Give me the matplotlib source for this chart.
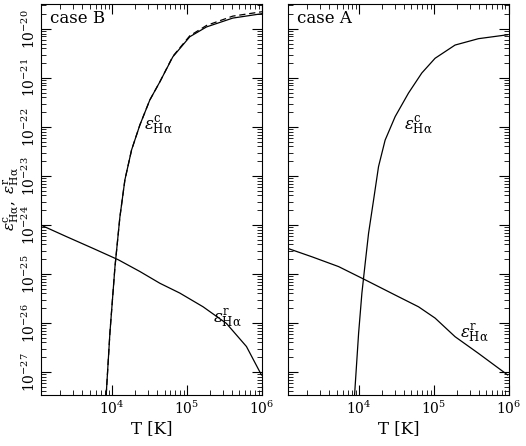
import numpy as np
import matplotlib
matplotlib.use("Agg")
import matplotlib.pyplot as plt
from matplotlib.ticker import LogLocator, NullFormatter

plt.rcParams['font.family'] = 'DejaVu Serif'
plt.rcParams['mathtext.fontset'] = 'dejavuserif'

# log10 T, log10 emissivity
B_coll_logT = [3.92, 3.97, 4.037, 4.103, 4.17, 4.259, 4.37, 4.503, 4.637, 4.81, 5.037, 5.26, 5.61, 6.0]
B_coll_logE = [-27.47, -26.20, -24.86, -23.84, -23.08, -22.47, -21.96, -21.45, -21.08, -20.57, -20.16, -19.96, -19.78, -19.69]
B_coll2_logE = [-27.47, -26.20, -24.86, -23.84, -23.08, -22.47, -21.96, -21.45, -21.08, -20.56, -20.14, -19.93, -19.74, -19.65]
B_rec_logT = [3.059, 3.392, 3.747, 4.081, 4.37, 4.637, 4.903, 5.214, 5.526, 5.793, 5.993]
B_rec_logE = [-24.01, -24.24, -24.48, -24.71, -24.95, -25.19, -25.39, -25.67, -26.01, -26.48, -27.06]

A_coll_logT = [3.939, 3.993, 4.037, 4.081, 4.126, 4.193, 4.259, 4.347, 4.481, 4.659, 4.837, 5.014, 5.281, 5.593, 5.983]
A_coll_logE = [-27.47, -26.21, -25.39, -24.78, -24.17, -23.49, -22.81, -22.27, -21.79, -21.31, -20.90, -20.60, -20.33, -20.20, -20.12]
A_rec_logT = [3.05, 3.37, 3.726, 4.081, 4.481, 4.793, 5.014, 5.281, 5.593, 5.983]
A_rec_logE = [-24.48, -24.65, -24.85, -25.12, -25.43, -25.67, -25.90, -26.28, -26.62, -27.06]

fig = plt.figure(figsize=(5.26, 4.46), dpi=100)
axB = fig.add_axes([0.078, 0.1143, 0.42, 0.877])
axA = fig.add_axes([0.5475, 0.1143, 0.42, 0.877])

def p(v):
    return 10.0 ** np.array(v)

axB.plot(p(B_coll_logT), p(B_coll_logE), color='black', lw=0.9)
axB.plot(p(B_coll_logT), p(B_coll2_logE), color='black', lw=0.9, ls=(0, (5, 3)))
axB.plot(p(B_rec_logT), p(B_rec_logE), color='black', lw=0.9)
axA.plot(p(A_coll_logT), p(A_coll_logE), color='black', lw=0.9)
axA.plot(p(A_rec_logT), p(A_rec_logE), color='black', lw=0.9)

for ax, name in [(axB, 'case B'), (axA, 'case A')]:
    ax.set_xscale('log')
    ax.set_yscale('log')
    ax.set_xlim(10 ** 3.05, 1e6)
    ax.set_ylim(10 ** -27.47, 10 ** -19.49)
    ax.tick_params(which='both', direction='in', top=True, right=True)
    ax.tick_params(which='major', length=7, labelsize=10)
    ax.tick_params(axis='y', pad=2)
    ax.tick_params(which='minor', length=3.5)
    ax.yaxis.set_major_locator(LogLocator(base=10, numticks=20))
    ax.yaxis.set_minor_locator(LogLocator(base=10, subs=np.arange(2, 10), numticks=20))
    ax.yaxis.set_minor_formatter(NullFormatter())
    ax.set_xlabel('T [K]', fontsize=12, labelpad=2)
    ax.text(0.04, 0.985, name, transform=ax.transAxes, ha='left', va='top', fontsize=12)

for lbl in axB.get_yticklabels():
    lbl.set_rotation(90)
    lbl.set_va('center')
axA.set_yticklabels([])
axB.set_ylabel(r'$\epsilon^{\rm c}_{\rm H\alpha},\ \epsilon^{\rm r}_{\rm H\alpha}$', fontsize=11, labelpad=0)

axB.text(10 ** 4.42, 10 ** -22.05, r'$\epsilon^{\rm c}_{\rm H\alpha}$', fontsize=12)
axB.text(10 ** 5.35, 10 ** -26.0, r'$\epsilon^{\rm r}_{\rm H\alpha}$', fontsize=12)
axA.text(10 ** 4.6, 10 ** -22.05, r'$\epsilon^{\rm c}_{\rm H\alpha}$', fontsize=12)
axA.text(10 ** 5.35, 10 ** -26.3, r'$\epsilon^{\rm r}_{\rm H\alpha}$', fontsize=12)

fig.savefig('out.png', dpi=100)
